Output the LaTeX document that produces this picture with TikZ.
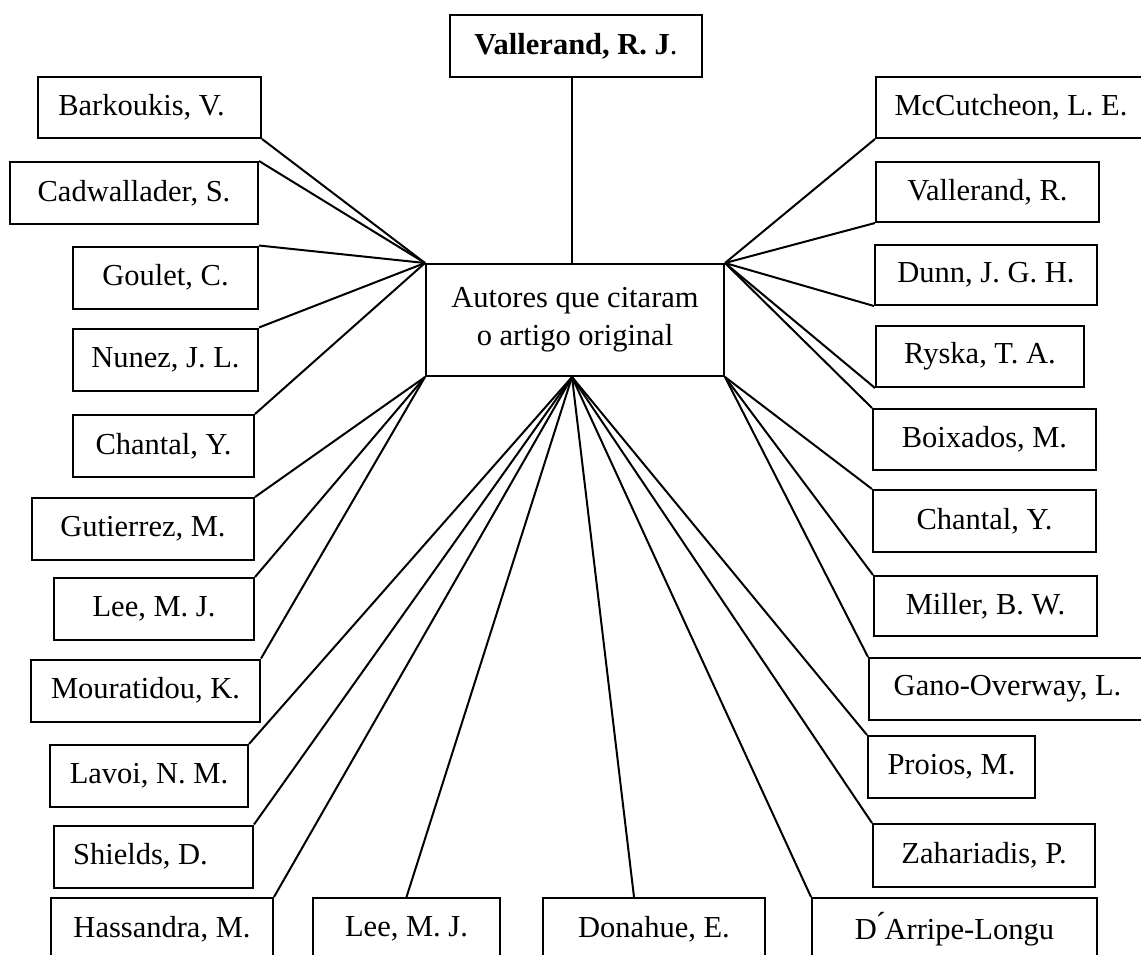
\documentclass[tikz,border=0pt]{standalone}
\usepackage{fontspec}
\setmainfont{Liberation Serif}
\usepackage{tikz}
\tikzset{
    abox/.style={draw,line width=2pt,rectangle,inner sep=0pt,minimum height=62pt,
        font=\fontsize{30.5}{38}\selectfont},
    citegraph/.style={
        every edge/.style={draw,line width=2pt},
    }
}

\begin{document}
\begin{tikzpicture}[x=1pt,y=-1pt,citegraph]
\clip (0,0) rectangle (1141,955);
% central boxes
\node[abox,minimum width=252] (orig) at (576,46) {\textbf{Vallerand, R. J}.};
\node[abox,minimum width=298,minimum height=112,align=center] (mid) at (575,320)
    {Autores que citaram\\o artigo original};
% left column
\node[abox,minimum width=223,minimum height=61] (barkoukis) at (149.5,107.5) {Barkoukis, V.\kern16pt};
\node[abox,minimum width=248] (cadwallader) at (134,193) {Cadwallader, S.};
\node[abox,minimum width=185] (goulet) at (165.5,277.5) {Goulet, C.};
\node[abox,minimum width=185] (nunez) at (165.5,359.5) {Nunez, J. L.};
\node[abox,minimum width=181] (chantalL) at (163.5,446) {Chantal, Y.};
\node[abox,minimum width=222] (gutierrez) at (143,529) {Gutierrez, M.};
\node[abox,minimum width=200] (leeL) at (154,609) {Lee, M. J.};
\node[abox,minimum width=229] (mouratidou) at (145.5,690.5) {Mouratidou, K.};
\node[abox,minimum width=198] (lavoi) at (149,776) {Lavoi, N. M.};
\node[abox,minimum width=199] (shields) at (153.5,856.5) {Shields, D.\kern26pt};
\node[abox,minimum width=222] (hassandra) at (162,929) {Hassandra, M.};
% bottom row
\node[abox,minimum width=187] (leeB) at (406.5,929) {Lee, M. J.};
\node[abox,minimum width=222] (donahue) at (654,929) {Donahue, E.};
\node[abox,minimum width=285] (darripe) at (954.5,929) {D\'{}Arripe-Longu};
% right column
\node[abox,minimum width=270,minimum height=61] (mccutcheon) at (1011,107.5) {McCutcheon, L. E.};
\node[abox,minimum width=223,minimum height=60] (vallerandR) at (987.5,192) {Vallerand, R.};
\node[abox,minimum width=222,minimum height=60] (dunn) at (986,275) {Dunn, J. G. H.};
\node[abox,minimum width=208,minimum height=61] (ryska) at (980,356.5) {Ryska, T. A.};
\node[abox,minimum width=223,minimum height=61] (boixados) at (984.5,439.5) {Boixados, M.};
\node[abox,minimum width=223] (chantalR) at (984.5,521) {Chantal, Y.};
\node[abox,minimum width=223,minimum height=60] (miller) at (985.5,606) {Miller, B. W.};
\node[abox,minimum width=277] (gano) at (1007.5,689) {Gano-Overway, L.};
\node[abox,minimum width=167] (proios) at (951.5,767) {Proios, M.};
\node[abox,minimum width=222,minimum height=63] (zahariadis) at (984,855.5) {Zahariadis, P.};
\coordinate (hub) at ([xshift=-3pt]mid.south);
\path
    ([xshift=-4pt]orig.south) edge ([xshift=-3pt]mid.north)
    (barkoukis.south east) edge (mid.north west)
    (cadwallader.north east) edge (mid.north west)
    (goulet.north east) edge (mid.north west)
    (nunez.north east) edge (mid.north west)
    (chantalL.north east) edge (mid.north west)
    (gutierrez.north east) edge (mid.south west)
    (leeL.north east) edge (mid.south west)
    (mouratidou.north east) edge (mid.south west)
    (lavoi.north east) edge (hub)
    (shields.north east) edge (hub)
    (hassandra.north east) edge (hub)
    (leeB.north) edge (hub)
    ([xshift=-20pt]donahue.north) edge (hub)
    (darripe.north west) edge (hub)
    (zahariadis.north west) edge (hub)
    (proios.north west) edge (hub)
    (gano.north west) edge (mid.south east)
    (miller.north west) edge (mid.south east)
    (chantalR.north west) edge (mid.south east)
    (boixados.north west) edge (mid.north east)
    (ryska.south west) edge (mid.north east)
    (dunn.south west) edge (mid.north east)
    (vallerandR.south west) edge (mid.north east)
    (mccutcheon.south west) edge (mid.north east)
;
\end{tikzpicture}
\end{document}
